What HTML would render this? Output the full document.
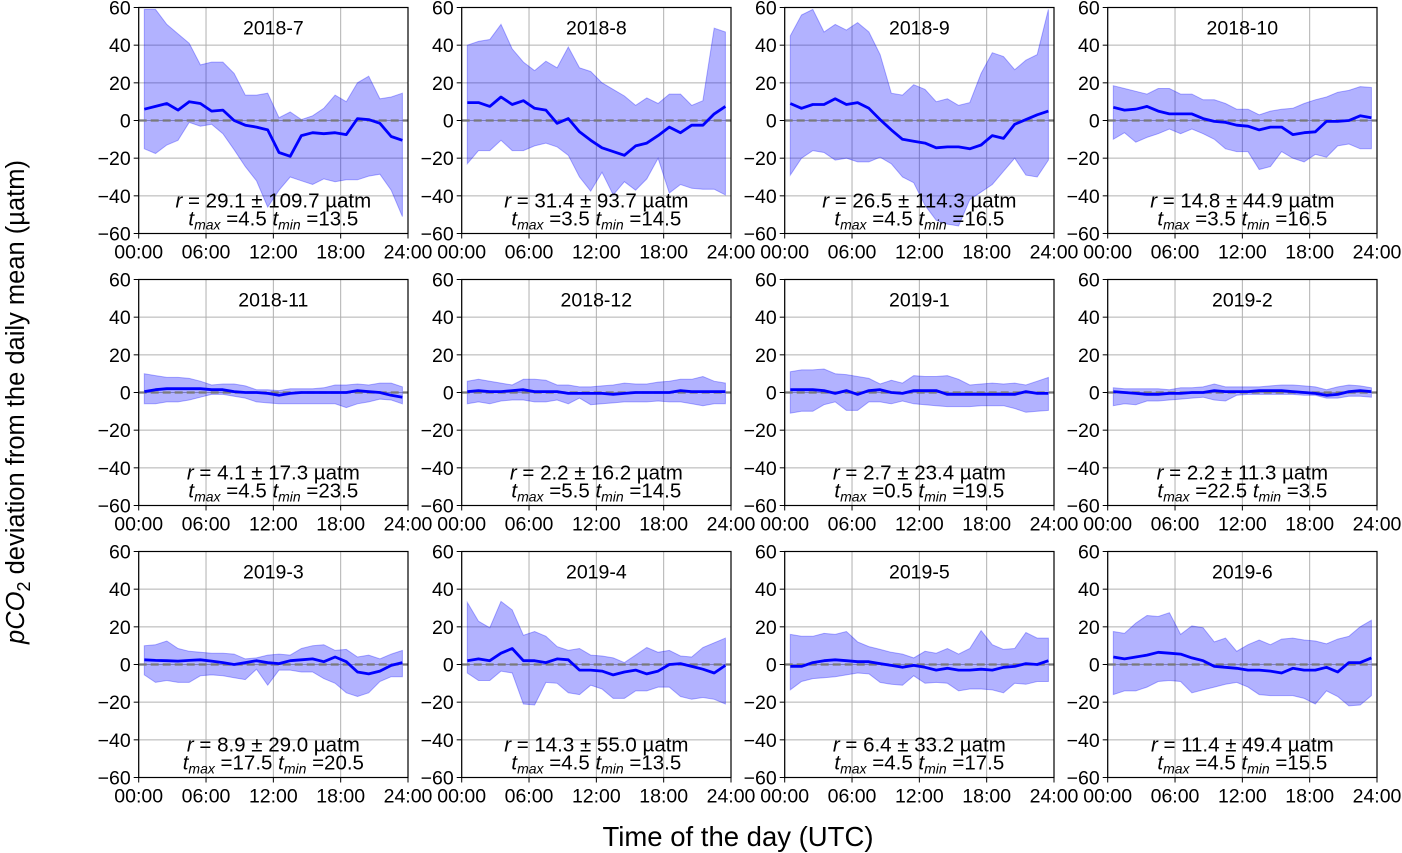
<!DOCTYPE html>
<html><head><meta charset="utf-8"><style>
body{margin:0;background:#fff;}
svg{display:block;font-family:"Liberation Sans",sans-serif;}
</style></head><body>
<svg id="fig" width="1402" height="853" viewBox="0 0 1402 853" xmlns="http://www.w3.org/2000/svg">
<text x="738" y="846" font-size="27.5" text-anchor="middle">Time of the day (UTC)</text>
<text transform="translate(24,402) rotate(-90)" font-size="25.5" text-anchor="middle"><tspan font-style="italic">pCO</tspan><tspan font-size="18" dy="6">2</tspan><tspan dy="-6"> deviation from the daily mean (µatm)</tspan></text>
</svg>
<script>
const titles=["2018-7","2018-8","2018-9","2018-10","2018-11","2018-12","2019-1","2019-2","2019-3","2019-4","2019-5","2019-6"];
const hours=[0.5,1.5,2.5,3.5,4.5,5.5,6.5,7.5,8.5,9.5,10.5,11.5,12.5,13.5,14.5,15.5,16.5,17.5,18.5,19.5,20.5,21.5,22.5,23.5];
const rText=["29.1 ± 109.7","31.4 ± 93.7","26.5 ± 114.3","14.8 ± 44.9","4.1 ± 17.3","2.2 ± 16.2","2.7 ± 23.4","2.2 ± 11.3","8.9 ± 29.0","14.3 ± 55.0","6.4 ± 33.2","11.4 ± 49.4"];
const tMax=["4.5","3.5","4.5","3.5","4.5","5.5","0.5","22.5","17.5","4.5","4.5","4.5"];
const tMin=["13.5","14.5","16.5","16.5","23.5","14.5","19.5","3.5","20.5","13.5","17.5","15.5"];
const yTicks=[-60,-40,-20,0,20,40,60];
const xTickLabels=["00:00","06:00","12:00","18:00","24:00"];
const xTickHours=[0,6,12,18,24];
const meanVals=[
[6,7.5,9,5.5,10,9,5,5.5,0,-2.5,-3.5,-5,-17,-19,-8,-6.5,-7,-6.5,-7.5,1,0.5,-1.5,-8.5,-10.5],
[9.5,9.5,7.5,12.5,8.5,10.5,6.5,5.5,-1.5,1,-6,-10.5,-14.5,-16.5,-18.5,-13.5,-12,-8,-3.5,-6.5,-2.5,-2.5,3.5,7.5],
[9,6.5,8.5,8.5,11.5,8.5,9.5,6.5,0.5,-5,-10,-11,-12,-14.5,-14,-14,-15,-13,-8,-9.5,-2,0.5,3,5],
[7,5.5,6,7.5,5,3.5,3.5,3.5,1,-0.5,-1,-2.5,-3,-5,-3.5,-3.5,-7.5,-6.5,-6,-0.5,-0.5,0,2.5,1.5],
[0.5,1.5,2,2,2,2,1.5,1.5,0.5,0,0,-0.5,-1.5,-0.5,0,0,0,0,0,1,0.5,0,-1.5,-2.5],
[0.5,1,0.5,0.5,1,1.5,0.5,0.5,0.5,-0.5,-0.5,-0.5,-0.5,-1,-0.5,0,0,0,0,1,0.5,0.5,0.5,0.5],
[1.5,1.5,1.5,1,-0.5,1,-1,1,1.5,0,-0.5,1,1,1,-1,-1,-1,-1,-1,-1,-1,0.5,-0.5,-0.5],
[0.5,0,-0.5,-1,-1,-0.5,-0.5,0,0,1,0.5,0.5,0.5,1,1,1,0.5,0,-0.5,-1.5,-1,0.5,1,0.5],
[2.5,2.2,2,1.8,2.2,2.5,1.8,1,0,1,2,1,0.5,2,2.5,3,1.5,4,1.5,-4,-5,-3.5,-0.5,1],
[2,3,2,6,8.5,2,2,1,3,2.5,-3,-3,-3.5,-5.5,-4,-3,-5,-3.5,0,0.5,-1,-2.5,-4.5,-0.5],
[-1,-1,1,2,2.5,2,1.5,1.5,0.5,-0.5,-1.5,-0.5,-1.5,-3,-2,-3,-3,-2.5,-3,-1.5,-1,0.5,0,2],
[4,3,4,5,6.5,6,5.5,3.5,2,-1,-1.5,-2,-3,-3,-3.5,-4.5,-2,-3,-3,-1.5,-4,1,1,3.5]];
const upperVals=[
[59,59,51,46,41,29.5,31,31,25,13.5,13.5,14.5,1.5,4.5,0.5,2.5,6.5,13.5,10,20,23.5,11.5,12.5,14.5],
[40,42,43,51,38,31,26.5,31.5,28,39,28,26,20,16.5,13,8,12,9,14,14,8,10.5,49,47],
[45,56,59,47,51,48,52,47,35,14.5,13.5,19,16.5,10,11.5,8,9.5,25,36,34,27,32,35,59],
[18.5,17,15.5,14,17,17,14,14,11,11,9,6,6,3,5,6,6.5,9,11,12.5,15,16,18,17.5],
[10,9,8,8,7.5,6,4,4.5,4.5,3.5,1.5,1.5,1,2,2,2,2.5,4,4,4.5,4,5,5,3],
[6,7,6,5,4,7,7,6.5,4,4,3,3,3.5,4,5,4.5,4.5,5.5,6,7,7,8.5,6,5],
[11,12,12,12.5,10,9.5,8.5,7.5,4.5,6.5,5,9,8.5,8.5,9,7,4,4.5,5,4.5,5,4,6,8],
[2.5,2,2,2,2,1.5,2.5,2.5,3,4.5,3,3,3,3,3.5,4,4,3.5,3,1.5,3,4,3.5,2.5],
[10,10.5,12.5,8.5,7,6.5,6,6,5.5,3,3.5,5,5.5,5,8.5,10,10.5,7.5,8,4,5,3,5.5,7.5],
[33,23,19.5,33.5,29,15.5,17.5,15,9.5,7.5,8.5,5,4.5,3.5,1,5,9,6.5,7.5,4.5,4,9,11.5,14],
[16,15,15,16.5,16,17.5,12,9.5,8,6.5,5.5,3.5,7,6,8.5,5.5,8.5,18,10.5,8,8.5,17,14,14],
[17.5,16.5,22,26,25.5,27.5,16,20.5,19.5,12,14,7,10.5,13,10.5,13.5,14,13,12.5,11,13.5,15,20,23.5]];
const lowerVals=[
[-15,-17.5,-13,-10.5,-1,-3,-2,-7,-15.5,-24.5,-32,-46,-37,-30,-32,-34,-31,-32.5,-31.5,-31.5,-29.5,-28.5,-37,-51],
[-23,-16,-16,-10.5,-16,-16,-13.5,-12,-14,-18.5,-30,-37.5,-27.5,-39.5,-32.5,-37,-31,-20,-38.5,-34,-36,-36.5,-36.5,-39.5],
[-29,-20,-16,-17,-21,-20,-22,-22,-19.5,-23,-30,-33,-45,-53,-55,-56,-42,-38,-34,-27,-20,-29,-30,-21],
[-10,-6.5,-11.5,-9,-7,-4.5,-7,-4.5,-7,-10,-15,-16.5,-16.5,-26,-24.5,-16.5,-20,-22,-18,-19.5,-13.5,-12.5,-15,-15],
[-6,-6,-5,-5,-4,-2.5,-1,-1,-2,-3,-5,-5.5,-6,-6,-6,-6,-6,-6,-8,-6,-5,-3.5,-4,-6],
[-6,-5,-6,-4.5,-4,-4,-5,-5,-4,-6,-3,-6.5,-6,-5.5,-5,-5,-5,-4.5,-5,-5,-6,-7,-6,-6],
[-11,-10,-10,-6.5,-5,-9.5,-9.5,-5,-5,-6,-4.5,-6,-6.5,-7,-7.5,-7.5,-7.5,-7,-7,-7,-8.5,-10.5,-10,-9.5],
[-7,-6,-6.5,-4.5,-4.5,-4,-3.5,-3,-2.5,-4,-4.5,-1.5,-1,-1,-1,-1,-1,-1.5,-1.5,-3,-3,-2,-2,-2.5],
[-5.5,-9.5,-8.5,-9.5,-9.5,-6,-5.5,-6,-7,-8,-2.5,-11,-3,-3,-4,-4,-7.5,-10,-15,-17,-15,-9,-6.5,-6.5],
[-4.5,-8.5,-8.5,-3.5,-4.5,-21,-21.5,-9.5,-10,-15,-16,-11,-13,-18,-18,-14,-14,-12,-12,-17,-18.5,-17.5,-18.5,-21],
[-13.5,-9,-7.5,-7,-6.5,-5.5,-4.5,-5,-9.5,-10.5,-11,-6,-10,-9.5,-10,-14,-13,-13,-13.5,-15,-10,-10.5,-9,-9],
[-16,-14,-14,-12,-9,-8.5,-9,-15,-13.5,-12,-10.5,-9.5,-12,-16,-16.5,-16.5,-16.5,-18,-21,-14,-17,-22,-21.5,-16.5]];

const NS="http://www.w3.org/2000/svg";
const svg=document.getElementById('fig');
const colX=[138.7,461.7,784.7,1107.7], rowY=[7.5,279.5,551.5], W=269.3, H=226;
function mk(tag,attrs,parent){const e=document.createElementNS(NS,tag);for(const k in attrs)e.setAttribute(k,attrs[k]);(parent||svg).appendChild(e);return e;}
for(let p=0;p<12;p++){
  const x0=colX[p%4], y0=rowY[Math.floor(p/4)];
  const xs=h=>x0+h/24*W, ys=v=>y0+(60-v)/120*H;
  const g=mk('g',{});
  
  
  xTickHours.forEach(h=>{const l=mk('line',{x1:xs(h),x2:xs(h),y1:y0,y2:y0+H,stroke:'#b0b0b0','stroke-width':1},g);});
  yTicks.forEach(v=>{const l=mk('line',{x1:x0,x2:x0+W,y1:ys(v),y2:ys(v),stroke:'#b0b0b0','stroke-width':1},g);});
  let d='';hours.forEach((h,i)=>{d+=(i?'L':'M')+xs(h).toFixed(1)+','+ys(upperVals[p][i]).toFixed(1);});
  for(let i=hours.length-1;i>=0;i--)d+='L'+xs(hours[i]).toFixed(1)+','+ys(lowerVals[p][i]).toFixed(1);
  const band=mk('path',{d:d+'Z',fill:'rgba(0,0,255,0.3)',stroke:'rgba(0,0,255,0.3)','stroke-width':1},g);
  
  
  const z=mk('line',{x1:x0,x2:x0+W,y1:ys(0),y2:ys(0),stroke:'#7a7a7a','stroke-width':2.2,'stroke-dasharray':'8,4'},g);
  
  
  let md='';hours.forEach((h,i)=>{md+=(i?'L':'M')+xs(h).toFixed(1)+','+ys(meanVals[p][i]).toFixed(1);});
  const ml=mk('path',{d:md,fill:'none',stroke:'#0000ff','stroke-width':2.8,'stroke-linejoin':'round'},g);
  
  
  const fr=mk('rect',{x:x0,y:y0,width:W,height:H,fill:'none',stroke:'#000','stroke-width':1.2},g);
  
  
  yTicks.forEach(v=>{
    mk('line',{x1:x0-5,x2:x0,y1:ys(v),y2:ys(v),stroke:'#000','stroke-width':1},g);
    const t=mk('text',{x:x0-8,y:ys(v)+7,'font-size':19.5,'text-anchor':'end'},g);
    
    
    t.textContent=(v<0?'\u2212'+(-v):String(v));
  });
  xTickHours.forEach((h,i)=>{
    mk('line',{x1:xs(h),x2:xs(h),y1:y0+H,y2:y0+H+5,stroke:'#000','stroke-width':1},g);
    const t=mk('text',{x:xs(h),y:y0+H+25,'font-size':19.5,'text-anchor':'middle'},g);
    
    
    t.textContent=xTickLabels[i];
  });
  const cx=x0+W/2;
  const tt=mk('text',{x:cx,y:y0+27,'font-size':19.5,'text-anchor':'middle'},g);
  
  
  tt.textContent=titles[p];
  const r=mk('text',{x:cx,y:y0+200,'font-size':20.5,'text-anchor':'middle'},g);
  
  
  r.innerHTML='<tspan font-style="italic">r</tspan> = '+rText[p]+' µatm';
  const tm=mk('text',{x:cx,y:y0+218,'font-size':20.5,'text-anchor':'middle'},g);
  
  
  tm.innerHTML='<tspan font-style="italic">t</tspan><tspan font-size="14" font-style="italic" dy="4">max</tspan><tspan dy="-4"> =' +tMax[p]+' </tspan><tspan font-style="italic">t</tspan><tspan font-size="14" font-style="italic" dy="4">min</tspan><tspan dy="-4"> ='+tMin[p]+'</tspan>';
}
</script>
</body></html>
